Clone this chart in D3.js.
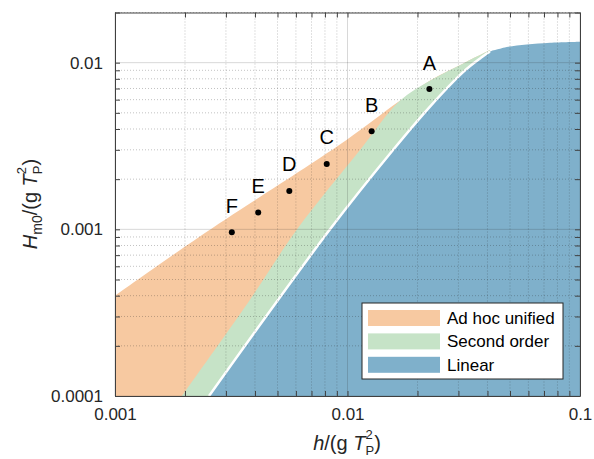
<!DOCTYPE html>
<html><head><meta charset="utf-8">
<script src="https://cdn.jsdelivr.net/npm/d3@7"></script>
<style>body{margin:0;background:#fff}text{font-family:"Liberation Sans",Arial,sans-serif}</style>
</head><body>
<svg id="c" width="594" height="459"></svg>
<script>
// ---- data ----
const xTickValues = [0.001, 0.01, 0.1];
const xTickLabels = ["0.001", "0.01", "0.1"];
const yTickValues = [0.0001, 0.001, 0.01];
const yTickLabels = ["0.0001", "0.001", "0.01"];

// upper limit (Ad hoc unified / breaking)
const breakX = [0.001, 0.0023, 0.0099, 0.0165, 0.0226, 0.0315, 0.041];
const breakY = [0.0004, 0.0009, 0.00344, 0.0058, 0.0078, 0.0099, 0.0119];
// second order limit (lower edge of the orange band)
const secondX = [0.00194, 0.0038, 0.00607, 0.01132, 0.0168];
const secondY = [0.0001, 0.000377, 0.001, 0.00299, 0.0059];
// linear limit
const linearX = [0.002537, 0.00841, 0.01569, 0.02264, 0.0315, 0.0372, 0.041, 0.0453, 0.0484, 0.059, 0.0743, 0.1];
const linearY = [0.0001, 0.001, 0.00299, 0.00545, 0.0088, 0.0106, 0.01164, 0.0121, 0.0124, 0.01285, 0.01318, 0.01337];

const pointLabels = ["A", "B", "C", "D", "E", "F"];
const pointX = [0.0225, 0.0127, 0.00814, 0.00562, 0.00413, 0.00318];
const pointY = [0.00695, 0.00388, 0.00247, 0.0017, 0.00126, 0.00096];

const legendLabels = ["Ad hoc unified", "Second order", "Linear"];
const colors = ["#f7c9a1", "#c6e3c7", "#7fb0cb"];

// ---- layout ----
const L = 115, R = 580, T = 12.5, B = 396;
const x = d3.scaleLog().domain([0.001, 0.1]).range([L, R]);
const y = d3.scaleLog().domain([0.0001, 0.02]).range([B, T]);
const svg = d3.select("#c");

svg.append("defs").append("clipPath").attr("id", "clip")
  .append("rect").attr("x", L).attr("y", T).attr("width", R - L).attr("height", B - T);

const zip = (a, b) => a.map((v, i) => [v, b[i]]);
const breakPts = zip(breakX, breakY);
const secondPts = zip(secondX, secondY);
const linearPts = zip(linearX, linearY);
const greenPts = secondPts.concat(breakPts.filter(p => p[0] > secondX[secondX.length - 1]));

const curve = d3.curveCatmullRom.alpha(0.5);
const area = d3.area().x(d => x(d[0])).y0(B).y1(d => y(d[1])).curve(curve);
const line = d3.line().x(d => x(d[0])).y(d => y(d[1])).curve(curve);

const g = svg.append("g").attr("clip-path", "url(#clip)");
g.append("path").attr("d", area(breakPts)).attr("fill", colors[0]);
g.append("path").attr("d", area(greenPts)).attr("fill", colors[1]);
g.append("path").attr("d", area(linearPts)).attr("fill", colors[2]);
const wl = g.append("path").attr("d", line(linearPts.filter(p => p[0] <= 0.0454)))
  .attr("fill", "none").attr("stroke", "#fff").attr("stroke-width", 2.5);
// trim the white line so it stops where the green band ends
(function () {
  const p = wl.node();
  const len = p.getTotalLength();
  const tipX = x(breakX[breakX.length - 1]);
  let lo = 0, hi = len;
  for (let k = 0; k < 30; k++) { const m = (lo + hi) / 2; if (p.getPointAtLength(m).x < tipX) lo = m; else hi = m; }
  wl.attr("stroke-dasharray", `${lo} ${len}`);
})();

// ---- grid ----
const minorOf = (decades, max) => {
  const out = [];
  decades.forEach(d => { for (let k = 2; k <= 9; k++) { const v = d * k; if (v <= max * 1.0001) out.push(v); } });
  return out;
};
const xMinor = minorOf([0.001, 0.01], 0.1);
const yMinor = minorOf([0.0001, 0.001, 0.01], 0.02);
const grid = svg.append("g");
grid.selectAll(".xm").data(xMinor).join("line")
  .attr("x1", d => x(d)).attr("x2", d => x(d)).attr("y1", T).attr("y2", B)
  .attr("stroke", "rgba(38,38,38,0.35)").attr("stroke-width", 0.8).attr("stroke-dasharray", "1,2");
grid.selectAll(".ym").data(yMinor).join("line")
  .attr("y1", d => y(d)).attr("y2", d => y(d)).attr("x1", L).attr("x2", R)
  .attr("stroke", "rgba(38,38,38,0.35)").attr("stroke-width", 0.8).attr("stroke-dasharray", "1,2");
grid.selectAll(".xM").data(xTickValues).join("line")
  .attr("x1", d => x(d)).attr("x2", d => x(d)).attr("y1", T).attr("y2", B)
  .attr("stroke", "rgba(38,38,38,0.18)").attr("stroke-width", 1);
grid.selectAll(".yM").data(yTickValues).join("line")
  .attr("y1", d => y(d)).attr("y2", d => y(d)).attr("x1", L).attr("x2", R)
  .attr("stroke", "rgba(38,38,38,0.18)").attr("stroke-width", 1);

// ---- axes ----
const allX = xTickValues.concat(xMinor);
const allY = yTickValues.concat(yMinor);
const fx = d => { const i = xTickValues.indexOf(d); return i >= 0 ? xTickLabels[i] : ""; };
const fy = d => { const i = yTickValues.indexOf(d); return i >= 0 ? yTickLabels[i] : ""; };
function style(sel) {
  sel.selectAll("path").attr("stroke", "#404040");
  sel.selectAll("line").attr("stroke", "#404040");
  sel.selectAll("text").attr("font-size", 17).attr("fill", "#262626")
    .attr("font-family", '"Liberation Sans",Arial,sans-serif');
}
svg.append("g").attr("transform", `translate(0,${B})`)
  .call(d3.axisBottom(x).tickValues(allX).tickFormat(fx).tickSize(-5).tickSizeOuter(0).tickPadding(12)).call(style);
svg.append("g").attr("transform", `translate(0,${T})`)
  .call(d3.axisTop(x).tickValues(allX).tickFormat(() => "").tickSize(-5).tickSizeOuter(0)).call(style);
svg.append("g").attr("transform", `translate(${L},0)`)
  .call(d3.axisLeft(y).tickValues(allY).tickFormat(fy).tickSize(-5).tickSizeOuter(0).tickPadding(12)).call(style);
svg.append("g").attr("transform", `translate(${R},0)`)
  .call(d3.axisRight(y).tickValues(allY).tickFormat(() => "").tickSize(-5).tickSizeOuter(0)).call(style);

// ---- points ----
const pts = pointLabels.map((l, i) => ({ l, x: pointX[i], y: pointY[i] }));
svg.selectAll(".dot").data(pts).join("circle")
  .attr("cx", d => x(d.x)).attr("cy", d => y(d.y)).attr("r", 3).attr("fill", "#000");
svg.selectAll(".lab").data(pts).join("text")
  .attr("x", d => x(d.x)).attr("y", d => y(d.y) - 19.5)
  .attr("text-anchor", "middle").attr("font-size", 20).attr("fill", "#000").text(d => d.l);

// ---- axis titles ----
function title(sel, main, sub1) {
  sel.append("tspan").attr("font-style", "italic").text(main);
  if (sub1) {
    sel.append("tspan").attr("font-size", 14).attr("dy", 5).text(sub1);
    sel.append("tspan").attr("dy", -5).text("/(g ");
  } else {
    sel.append("tspan").text("/(g ");
  }
  sel.append("tspan").attr("font-style", "italic").text("T");
  sel.append("tspan").attr("font-size", 13).attr("dy", -11).text("2");
  sel.append("tspan").attr("font-size", 13).attr("dx", -7.2).attr("dy", 16).text("P");
  sel.append("tspan").attr("dy", -5).text(")");
}
const xt = svg.append("text").attr("x", 347).attr("y", 450).attr("text-anchor", "middle")
  .attr("font-size", 20).attr("fill", "#262626");
title(xt, "h", null);

const yt = svg.append("text").attr("transform", "translate(37,204) rotate(-90)")
  .attr("text-anchor", "middle").attr("font-size", 20).attr("fill", "#262626");
title(yt, "H", "m0");

// ---- legend ----
const lg = svg.append("g");
lg.append("rect").attr("x", 362).attr("y", 303).attr("width", 201).attr("height", 76)
  .attr("fill", "#fff").attr("stroke", "#262626").attr("stroke-width", 1);
legendLabels.forEach((t, i) => {
  const cy = 318 + i * 23.4;
  lg.append("rect").attr("x", 368).attr("y", cy - 8).attr("width", 72).attr("height", 16).attr("fill", colors[i]);
  lg.append("text").attr("x", 447).attr("y", cy).attr("dy", "0.35em").attr("font-size", 17)
    .attr("fill", "#000").text(t);
});
</script>
</body></html>
